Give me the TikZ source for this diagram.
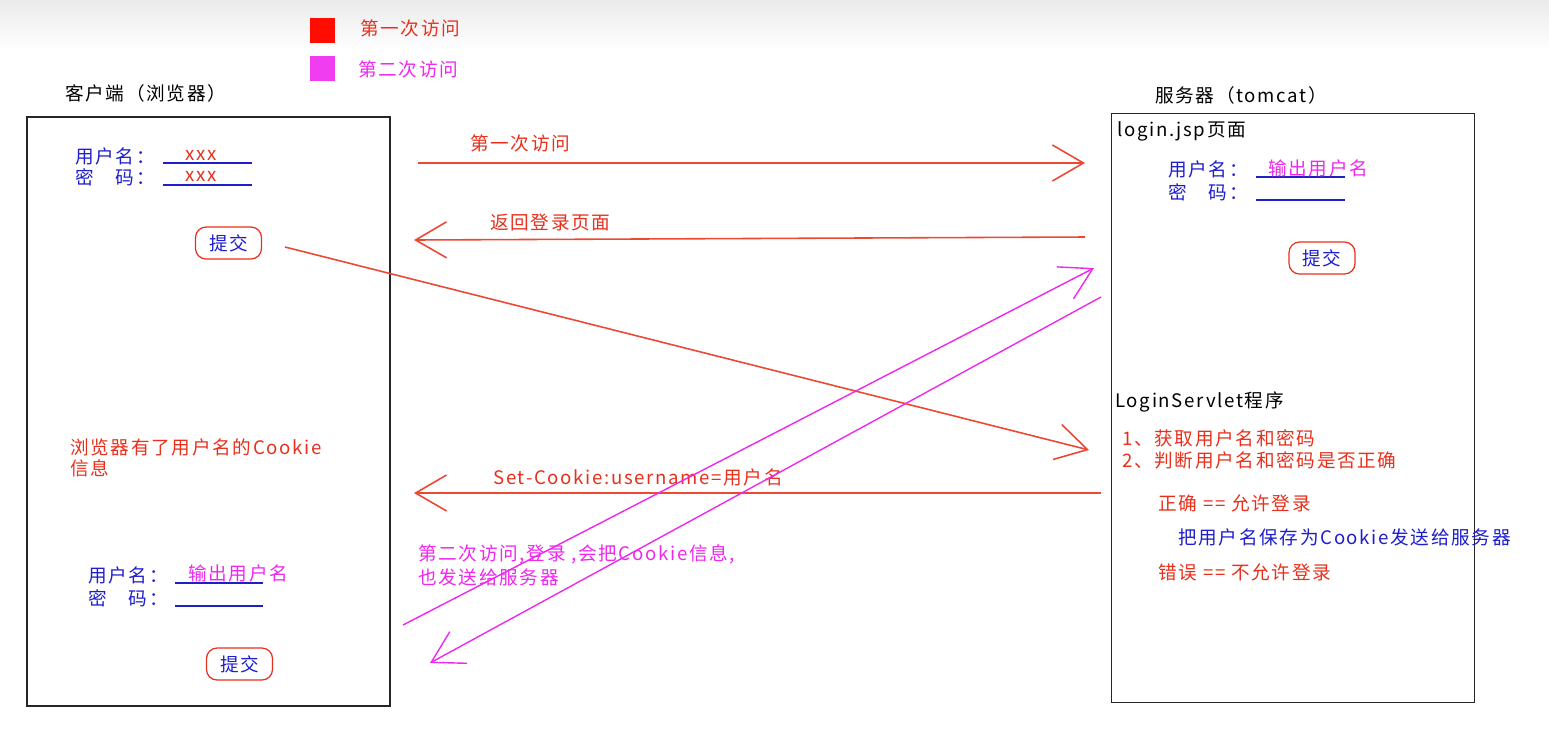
\documentclass[tikz,border=0pt]{standalone}
\usepackage{fontspec}
\setmainfont{Noto Sans CJK SC}[LetterSpace=9]
\usetikzlibrary{arrows.meta}
\definecolor{redA}{RGB}{232,48,28}
\definecolor{redL}{RGB}{236,72,52}
\definecolor{pinkA}{RGB}{238,40,238}
\definecolor{blueA}{RGB}{30,30,205}
\tikzset{
  txt/.style={anchor=west,inner sep=0pt,font=\fontsize{10.6}{12}\selectfont},
  redtxt/.style={txt,text=redA},
  pinktxt/.style={txt,text=pinkA},
  bluetxt/.style={txt,text=blueA},
  frame/.style={draw=black!85,line width=0.8pt,minimum width=7.26cm,minimum height=11.78cm,inner sep=0pt},
  btn/.style={draw=redA,line width=0.7pt,rounded corners=6pt,text=blueA,minimum width=1.32cm,minimum height=0.64cm,inner sep=0pt,font=\fontsize{10.6}{12}\selectfont},
  uline/.style={draw=blueA,line width=0.8pt},
  barb/.style={-{Straight Barb[length=0.62cm,width=0.72cm]}},
  flowR/.style={draw=redL,line width=0.9pt,barb},
  flowP/.style={draw=pinkA,line width=0.8pt,barb},
}
\begin{document}
\begin{tikzpicture}[x=0.02cm,y=-0.02cm]
\useasboundingbox (0,0) rectangle (1549,735);
\shade[top color=black!8,bottom color=white] (0,0) rectangle (1549,50);
\fill[white] (0,50) rectangle (1549,735);

\fill[red!90!orange] (310,18) rectangle (335,43);
\fill[pinkA!90!white] (310,56) rectangle (335,81);
\node[redtxt] (key1) at (360,28) {第一次访问};
\node[pinktxt] (key2) at (358,69) {第二次访问};

\node[txt] (clientT) at (65,93) {客户端（浏览器）};
\node[frame] (client) at (208.5,411.5) {};
\node[txt] (serverT) at (1155,95) {服务器（tomcat）};
\node[frame] (server) at (1293,408) {};

\node[bluetxt] (cu1) at (75,156) {用户名：};
\node[bluetxt] (cp1) at (75,177) {密　码：};
\draw[uline] (163,163) -- (252,163);
\draw[uline] (163,185) -- (252,185);
\node[redtxt] (cx1) at (185,155) {xxx};
\node[redtxt] (cx2) at (185,176) {xxx};
\node[btn] (btnA) at (228.5,243) {提交};

\node[redtxt] (cookieA) at (70,447) {浏览器有了用户名的Cookie};
\node[redtxt] (cookieB) at (70,468) {信息};

\node[bluetxt] (cu2) at (88,575) {用户名：};
\node[bluetxt] (cp2) at (88,598) {密　码：};
\draw[uline] (175,583) -- (263,583);
\draw[uline] (175,606) -- (263,606);
\node[pinktxt] (co2) at (188,573) {输出用户名};
\node[btn] (btnB) at (239.5,664) {提交};

\node[txt] (jsp) at (1117,131) {login.jsp页面};
\node[bluetxt] (su) at (1168,169) {用户名：};
\node[bluetxt] (sp) at (1168,192) {密　码：};
\draw[uline] (1256,177) -- (1345,177);
\draw[uline] (1256,200) -- (1345,200);
\node[pinktxt] (so) at (1268,168) {输出用户名};
\node[btn] (btnS) at (1322,258) {提交};

\node[txt] (servlet) at (1115,402) {LoginServlet程序};
\node[redtxt] (step1) at (1122,438) {1、获取用户名和密码};
\node[redtxt] (step2) at (1122,460) {2、判断用户名和密码是否正确};
\node[redtxt] (okA) at (1158,503) {正确 == 允许登录};
\node[bluetxt] (okB) at (1178,537) {把用户名保存为Cookie发送给服务器};
\node[redtxt] (noA) at (1158,572) {错误 == 不允许登录};

\coordinate (req1s) at (418,163);
\coordinate (req1e) at (1085,163);
\coordinate (rsp1s) at (1085,237);
\coordinate (rsp1e) at (414,240);
\coordinate (subS) at (285,247);
\coordinate (subE) at (1089,450);
\coordinate (setS) at (1101,493);
\coordinate (setE) at (414,493);
\coordinate (req2s) at (403,625);
\coordinate (req2e) at (1094,268);
\coordinate (rsp2s) at (1101,297);
\coordinate (rsp2e) at (430,663);

\draw[flowR] (req1s) -- (req1e);
\node[redtxt] (req1L) at (470,143) {第一次访问};
\draw[flowR] (rsp1s) -- (rsp1e);
\node[redtxt] (rsp1L) at (490,222) {返回登录页面};
\draw[flowR] (subS) -- (subE);
\draw[flowR] (setS) -- (setE);
\node[redtxt] (setL) at (493,477) {Set-Cookie:username=用户名};
\draw[flowP] (req2s) -- (req2e);
\draw[flowP] (rsp2s) -- (rsp2e);
\node[pinktxt] (req2A) at (418,554) {第二次访问,登录 ,会把Cookie信息,};
\node[pinktxt] (req2B) at (418,577) {也发送给服务器};
\end{tikzpicture}
\end{document}
